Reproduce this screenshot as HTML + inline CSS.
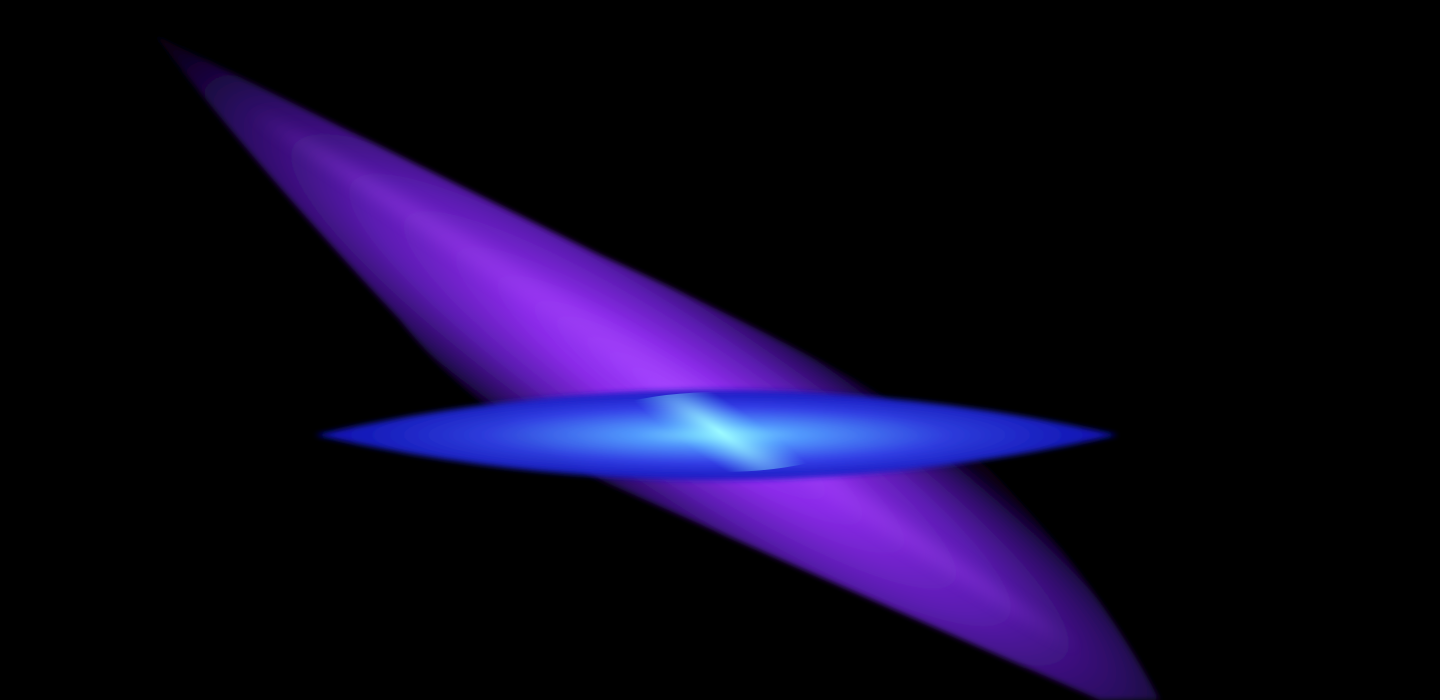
<!DOCTYPE html>
<html><head><meta charset="utf-8"><style>
html,body{margin:0;padding:0;background:#000;width:1440px;height:700px;overflow:hidden}
#wrap{position:relative;width:1440px;height:700px;overflow:hidden}
svg{display:block;position:absolute;left:0;top:0}
</style></head><body>
<div id="wrap">
<svg width="1440" height="700" viewBox="0 0 1440 700">
<defs>
<clipPath id="frame"><rect width="1440" height="700"/></clipPath>
<radialGradient id="pg" cx="0" cy="0" r="1" gradientUnits="userSpaceOnUse" gradientTransform="translate(680 400) rotate(33.5) scale(620 120)">
<stop offset="0" stop-color="#a040ff"/>
<stop offset="0.3" stop-color="#8a2be8"/>
<stop offset="0.6" stop-color="#5a1cb0"/>
<stop offset="0.85" stop-color="#2a0a60"/>
<stop offset="1" stop-color="#080218"/>
</radialGradient>
<radialGradient id="bg" cx="0" cy="0" r="1" gradientUnits="userSpaceOnUse" gradientTransform="translate(717 435) scale(420 50)">
<stop offset="0" stop-color="#80f0ff"/>
<stop offset="0.2" stop-color="#50a0ff"/>
<stop offset="0.55" stop-color="#3040e8"/>
<stop offset="1" stop-color="#0a0ab0"/>
</radialGradient>
<radialGradient id="cg" cx="0" cy="0" r="1" gradientUnits="userSpaceOnUse" gradientTransform="translate(720 432) rotate(33.5) scale(130 30)">
<stop offset="0" stop-color="#a0ffff" stop-opacity="0.9"/>
<stop offset="1" stop-color="#60c0ff" stop-opacity="0"/>
</radialGradient>
<filter id="soft" x="-10%" y="-30%" width="120%" height="160%"><feGaussianBlur stdDeviation="3"/></filter>
<filter id="soft2" x="-10%" y="-30%" width="120%" height="160%"><feGaussianBlur stdDeviation="8"/></filter>
</defs>
<g clip-path="url(#frame)">
<rect width="1440" height="700" fill="#000"/>
<g>
<path d="M155 35 L 600 255 Q 900 390 990 470 Q 1090 570 1160 700 L 1100 700 L 600 480 Q 470 410 400 320 Q 250 160 155 35 Z" fill="url(#pg)" filter="url(#soft)"/>
<path d="M250 110 Q 650 330 1080 650 Q 650 400 250 110 Z" fill="#b050ff" opacity="0.3" filter="url(#soft2)"/>
</g>
<g>
<path d="M315 435 Q 715 345 1118 435 Q 715 525 315 435 Z" fill="url(#bg)" opacity="0.95" filter="url(#soft)"/>
</g>
<ellipse cx="720" cy="432" rx="140" ry="40" fill="url(#cg)"/>
</g>
</svg>
</div>
</body></html>
